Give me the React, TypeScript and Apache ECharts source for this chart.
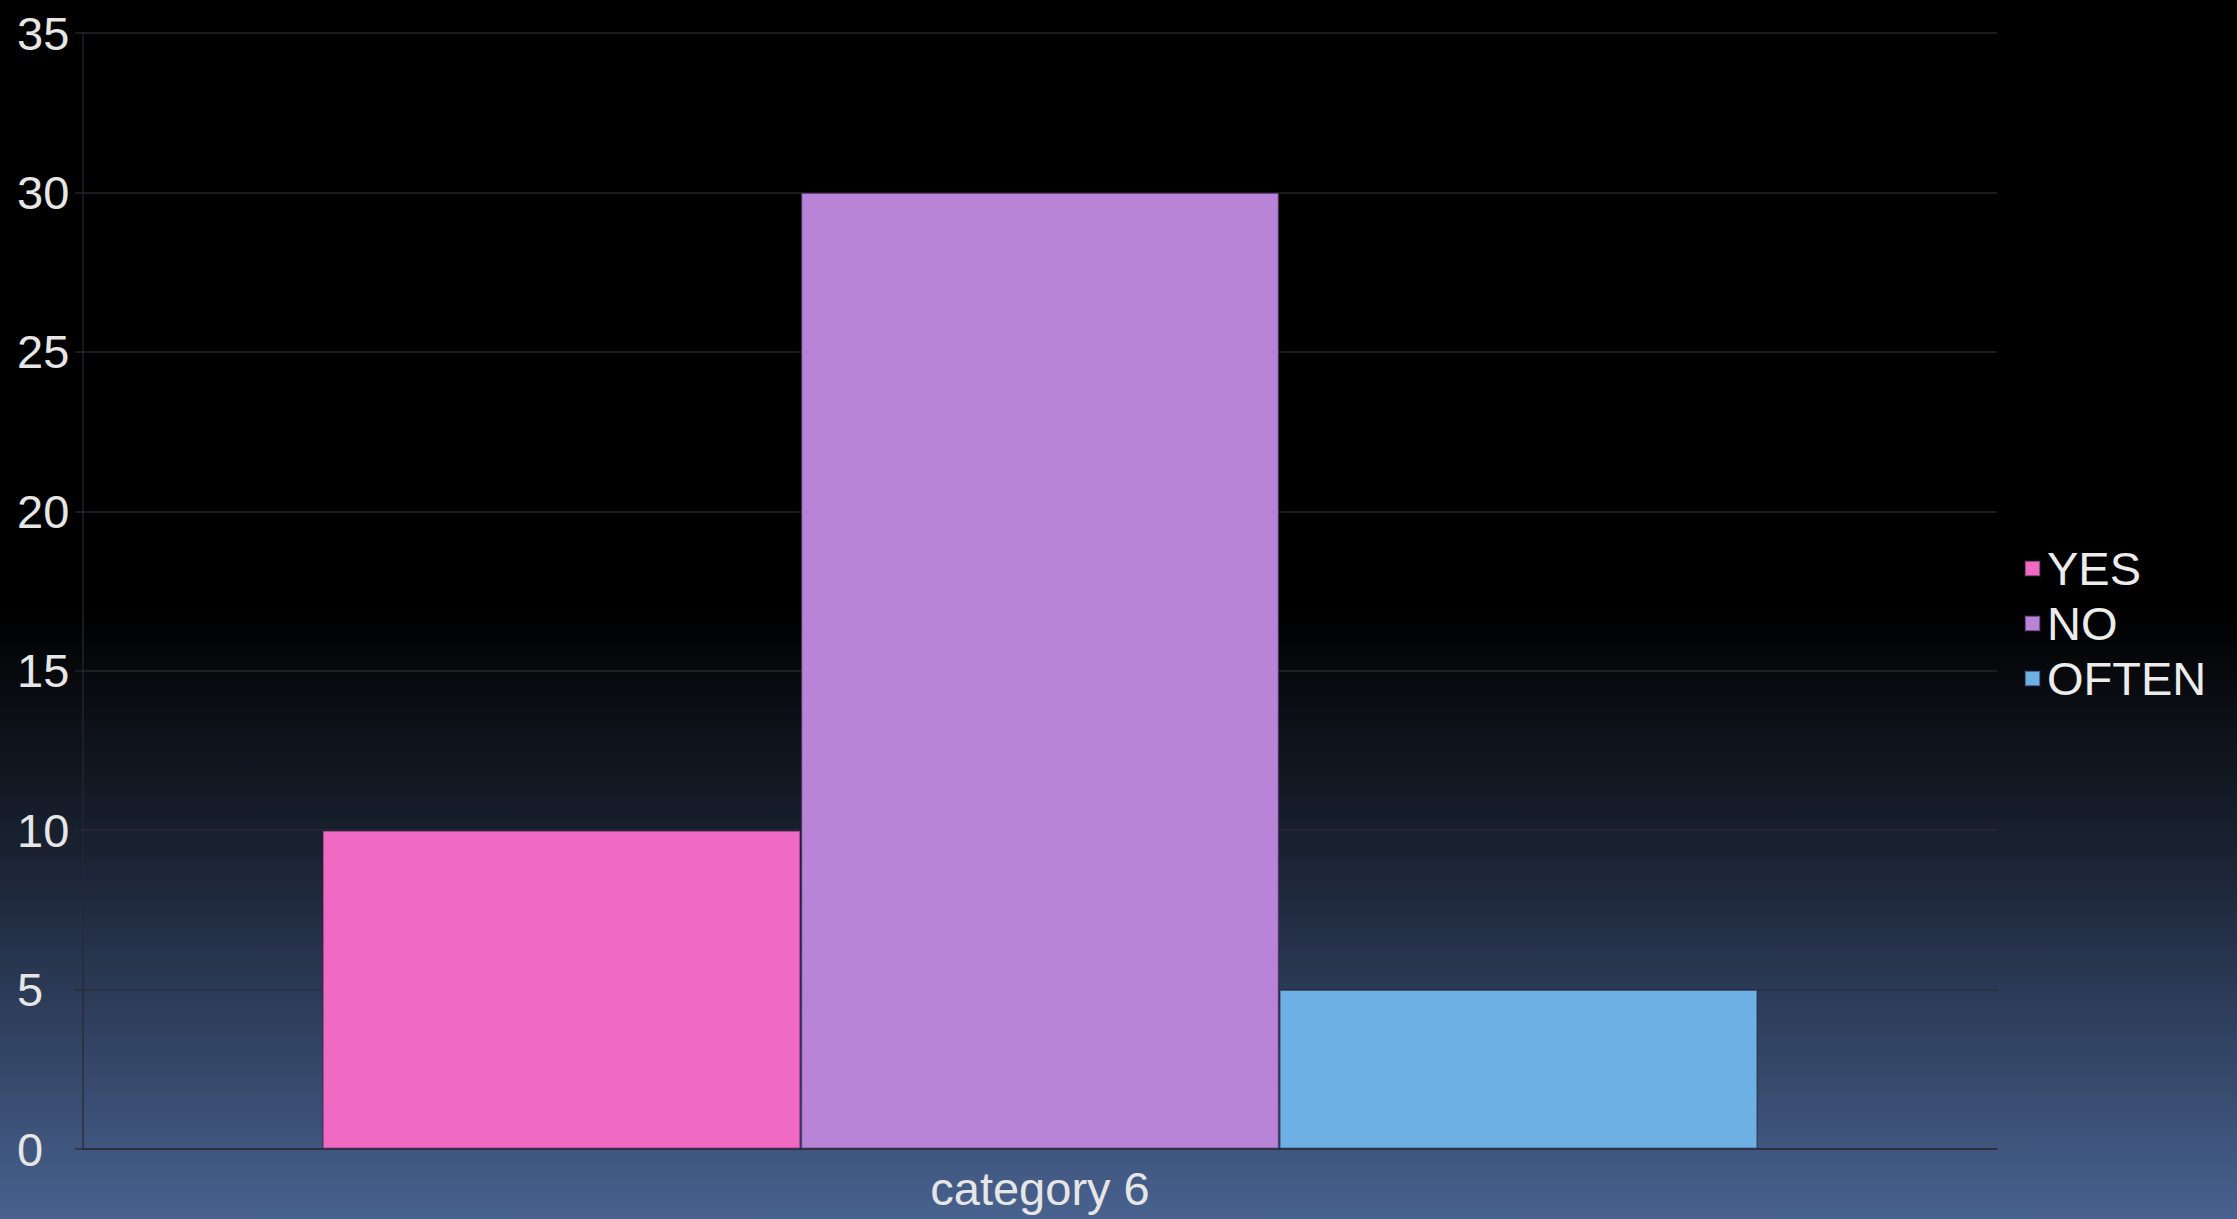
import React, { useEffect, useRef } from "react";
import * as echarts from "echarts";

const categories = ["category 6"];
const seriesNames = ["YES", "NO", "OFTEN"];
const yesValues = [10];
const noValues = [30];
const oftenValues = [5];
const seriesColors = ["#f06ac3", "#b983d7", "#6db0e4"];

export default function App() {
  const ref = useRef<HTMLDivElement>(null);
  useEffect(() => {
    if (!ref.current) return;
    const chart = echarts.init(ref.current, undefined, { renderer: "svg" });
    const font = "Liberation Sans, Arial, sans-serif";
    const valuesList = [yesValues, noValues, oftenValues];
    chart.setOption({
      animation: false,
      backgroundColor: {
        type: "linear",
        x: 0, y: 0, x2: 0, y2: 1,
        colorStops: [
          { offset: 0, color: "#000000" },
          { offset: 0.5, color: "#000000" },
          { offset: 0.58, color: "#0b0e14" },
          { offset: 0.7, color: "#1a2232" },
          { offset: 0.83, color: "#2e3e5c" },
          { offset: 1, color: "#48628f" },
        ],
      },
      grid: { left: 83, right: 240, top: 33, bottom: 70 },
      legend: {
        orient: "vertical",
        left: 2019,
        top: 536,
        itemWidth: 15,
        itemHeight: 15,
        itemGap: 0,
        icon: "rect",
        textStyle: {
          color: "#ececec",
          fontFamily: font,
          fontSize: 47,
          lineHeight: 55,
          padding: [0, 0, 0, 2],
        },
        data: seriesNames,
      },
      xAxis: {
        type: "category",
        data: categories,
        axisLine: { show: true, lineStyle: { color: "rgba(40,40,50,0.6)", width: 2 } },
        axisTick: { show: false },
        axisLabel: { color: "#e6e6e6", fontFamily: font, fontSize: 47, margin: 16 },
      },
      yAxis: {
        type: "value",
        min: 0,
        max: 35,
        interval: 5,
        axisLine: { show: true, lineStyle: { color: "rgba(40,40,50,0.6)", width: 2 } },
        axisTick: { show: true, inside: false, length: 8, lineStyle: { color: "rgba(40,40,50,0.6)", width: 2 } },
        splitLine: { show: true, lineStyle: { color: "rgba(45,45,50,0.6)", width: 2 } },
        axisLabel: {
          color: "#e6e6e6",
          fontFamily: font,
          fontSize: 47,
          align: "left",
          margin: 66,
        },
      },
      series: seriesNames.map((name, i) => ({
        name,
        type: "bar",
        data: valuesList[i],
        barGap: "0%",
        barCategoryGap: "25%",
        itemStyle: {
          color: seriesColors[i],
          borderColor: "rgba(40,30,60,0.5)",
          borderWidth: 1.5,
        },
      })),
    });
    return () => chart.dispose();
  }, []);
  return (
    <div
      ref={ref}
      style={{ position: "fixed", left: 0, top: 0, width: 2237, height: 1219 }}
    />
  );
}
